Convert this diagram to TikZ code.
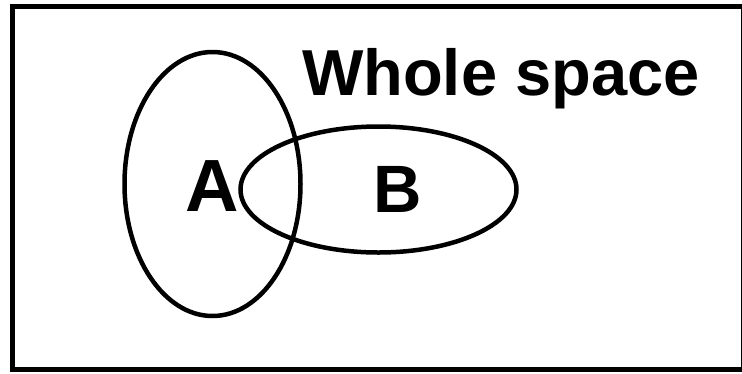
\documentclass[tikz,border=0pt]{standalone}
\usepackage{fontspec}
\setmainfont{Liberation Sans}
\begin{document}
\begin{tikzpicture}[x=1pt,y=-1pt,
  setline/.style={draw=black,line width=4.5pt},
  lbl/.style={inner sep=0pt,anchor=base,font=\bfseries}]
\useasboundingbox (0,0) rectangle (742,373);
\draw[line width=5pt] (12.5,6) rectangle (743.5,369);
\draw[setline] (212.5,184) ellipse [x radius=88, y radius=132];
\draw[setline] (378.5,189.5) ellipse [x radius=138, y radius=63];
\node[lbl,font=\bfseries\fontsize{74}{74}\selectfont] (A) at (212,211) {A};
\node[lbl,font=\bfseries\fontsize{67}{67}\selectfont] (B) at (397.5,212) {B};
\node[lbl,font=\bfseries\fontsize{65}{65}\selectfont,anchor=base west] (W) at (302,95) {Whole space};
\end{tikzpicture}
\end{document}
